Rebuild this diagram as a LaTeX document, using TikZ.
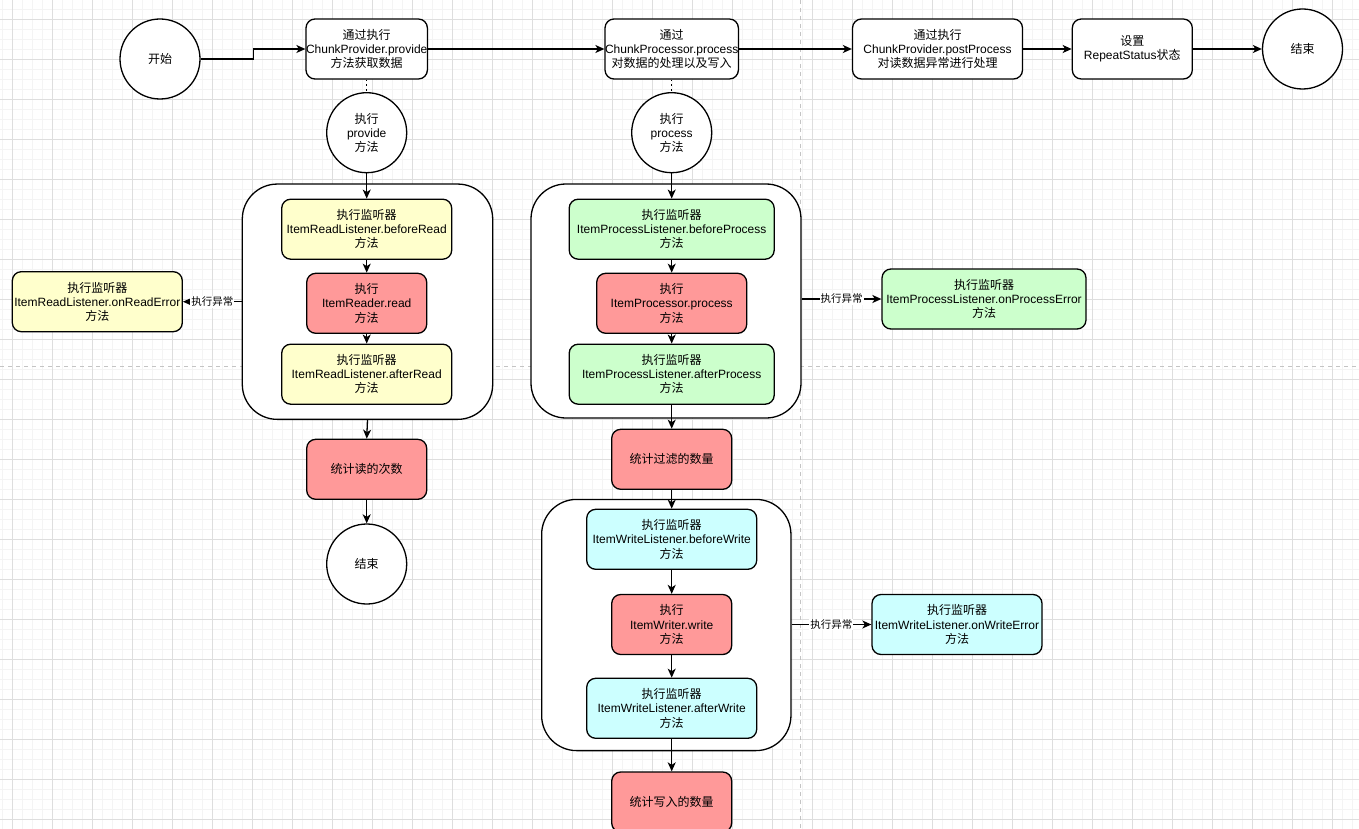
\documentclass[tikz,border=0pt]{standalone}
\usepackage{fontspec}
\setmainfont{Liberation Sans}
\newfontfamily\zhfont{Noto Sans CJK SC}
\newcommand{\zhtxt}[1]{{\zhfont #1}}
\usetikzlibrary{arrows.meta}
\definecolor{cyel}{HTML}{FFFFCC}
\definecolor{cred}{HTML}{FF9999}
\definecolor{cgrn}{HTML}{CCFFCC}
\definecolor{ccyn}{HTML}{CCFFFF}
\definecolor{gminorc}{HTML}{F4F4F4}
\definecolor{gmajorc}{HTML}{DEDEDE}
\definecolor{pagec}{HTML}{C4C4C4}
\begin{document}
\begin{tikzpicture}[x=1pt,y=-1pt,
  every node/.style={font=\fontsize{12}{14.2}\selectfont},
  rbox/.style={draw, line width=1.3pt, rounded corners=9pt, fill=white, align=center, inner sep=0pt, minimum height=60pt},
  circ/.style={draw, circle, line width=1.3pt, fill=white, align=center, inner sep=0pt, minimum size=80pt},
  grp/.style={draw, line width=1.3pt, rounded corners=35pt, fill=white, inner sep=0pt},
  arr/.style={line width=1.3pt, -{Stealth[length=9pt,width=8pt,inset=2.5pt]}},
  lbl/.style={fill=white, inner sep=1pt, font=\fontsize{10.5}{12}\selectfont},
  gminor/.style={draw=gminorc, line width=0.8pt},
  gmajor/.style={draw=gmajorc, line width=1pt},
  pageline/.style={draw=pagec, line width=1pt, dash pattern=on 4pt off 4pt},
]
\useasboundingbox (0,0) rectangle (1359,829);
\fill[white] (0,0) rectangle (1359,829);
% grid
\foreach \i in {0,...,135} \draw[gminor] ({2.3+10*\i},0) -- ({2.3+10*\i},829);
\foreach \i in {0,...,82} \draw[gminor] (0,{9.3+10*\i}) -- (1359,{9.3+10*\i});
\foreach \i in {0,...,33} \draw[gmajor] ({12.3+40*\i},0) -- ({12.3+40*\i},829);
\foreach \i in {0,...,20} \draw[gmajor] (0,{19.3+40*\i}) -- (1359,{19.3+40*\i});
% page break lines
\draw[pageline] (800.7,0) -- (800.7,829);
\draw[pageline] (0,366) -- (1359,366);

% containers
\node[grp, minimum width=250.4pt, minimum height=235.3pt] (gl) at (367.5,301.7) {};
\node[grp, minimum width=270pt, minimum height=234pt] (gm1) at (666,301) {};
\node[grp, minimum width=249.3pt, minimum height=251.2pt] (gm2) at (666.3,625) {};

% top row
\node[circ] (start) at (160,59) {\zhtxt{开始}};
\node[rbox, minimum width=120pt] (A) at (366.7,49) {\zhtxt{通过执行}\\ChunkProvider.provide\\\zhtxt{方法获取数据}};
\node[rbox, minimum width=130pt] (B) at (671.7,49) {\zhtxt{通过}\\ChunkProcessor.process\\\zhtxt{对数据的处理以及写入}};
\node[rbox, minimum width=170pt] (C) at (937.5,49) {\zhtxt{通过执行}\\ChunkProvider.postProcess\\\zhtxt{对读数据异常进行处理}};
\node[rbox, minimum width=120pt] (D) at (1132.3,49) {\zhtxt{设置}\\RepeatStatus\zhtxt{状态}};
\node[circ] (end1) at (1302.5,49) {\zhtxt{结束}};

% left column
\node[circ] (pc1) at (366.7,132.7) {\zhtxt{执行}\\provide\\\zhtxt{方法}};
\node[rbox, fill=cyel, minimum width=170pt] (br) at (366.7,229.2) {\zhtxt{执行监听器}\\ItemReadListener.beforeRead\\\zhtxt{方法}};
\node[rbox, fill=cred, minimum width=120pt] (rd) at (366.7,303.3) {\zhtxt{执行}\\ItemReader.read\\\zhtxt{方法}};
\node[rbox, fill=cyel, minimum width=170pt] (ar) at (366.7,374.2) {\zhtxt{执行监听器}\\ItemReadListener.afterRead\\\zhtxt{方法}};
\node[rbox, fill=cyel, minimum width=170pt] (re) at (97.3,301.7) {\zhtxt{执行监听器}\\ItemReadListener.onReadError\\\zhtxt{方法}};
\node[rbox, fill=cred, minimum width=120pt] (cr) at (366.7,469.3) {\zhtxt{统计读的次数}};
\node[circ] (end2) at (366.7,564) {\zhtxt{结束}};

% middle column
\node[circ] (pc2) at (671.7,132.7) {\zhtxt{执行}\\process\\\zhtxt{方法}};
\node[rbox, fill=cgrn, minimum width=205pt] (bp) at (671.7,229.2) {\zhtxt{执行监听器}\\ItemProcessListener.beforeProcess\\\zhtxt{方法}};
\node[rbox, fill=cred, minimum width=150pt] (pp) at (671.7,303.3) {\zhtxt{执行}\\ItemProcessor.process\\\zhtxt{方法}};
\node[rbox, fill=cgrn, minimum width=205pt] (ap) at (671.7,374.2) {\zhtxt{执行监听器}\\ItemProcessListener.afterProcess\\\zhtxt{方法}};
\node[rbox, fill=cgrn, minimum width=204pt] (pe) at (984,299) {\zhtxt{执行监听器}\\ItemProcessListener.onProcessError\\\zhtxt{方法}};
\node[rbox, fill=cred, minimum width=120pt] (cf) at (671.7,459.3) {\zhtxt{统计过滤的数量}};
\node[rbox, fill=ccyn, minimum width=170pt] (bw) at (671.7,539.3) {\zhtxt{执行监听器}\\ItemWriteListener.beforeWrite\\\zhtxt{方法}};
\node[rbox, fill=cred, minimum width=120pt] (ww) at (671.7,624.5) {\zhtxt{执行}\\ItemWriter.write\\\zhtxt{方法}};
\node[rbox, fill=ccyn, minimum width=170pt] (aw) at (671.7,708.3) {\zhtxt{执行监听器}\\ItemWriteListener.afterWrite\\\zhtxt{方法}};
\node[rbox, fill=ccyn, minimum width=170pt] (we) at (957,624.5) {\zhtxt{执行监听器}\\ItemWriteListener.onWriteError\\\zhtxt{方法}};
\node[rbox, fill=cred, minimum width=120pt] (cw) at (671.7,802) {\zhtxt{统计写入的数量}};

% top connectors
\draw[arr] (start.east) -- ++(53,0) |- (A.west);
\draw[arr] (A.east) -- (B.west);
\draw[arr] (B.east) -- (C.west);
\draw[arr] (C.east) -- (D.west);
\draw[arr] (D.east) -- (end1.west);
\draw[line width=1.3pt, dash pattern=on 1.3pt off 3.5pt] (A.south) -- (pc1.north);
\draw[line width=1.3pt, dash pattern=on 1.3pt off 3.5pt] (B.south) -- (pc2.north);

% left flow
\draw[arr] (pc1.south) -- (br.north);
\draw[arr] (br.south) -- (rd.north);
\draw[arr] (rd.south) -- (ar.north);
\draw[arr] (gl.south) -- (cr.north);
\draw[arr] (cr.south) -- (end2.north);
\draw[arr] (gl.west) -- node[lbl] {\zhtxt{执行异常}} (re.east);

% middle flow
\draw[arr] (pc2.south) -- (bp.north);
\draw[arr] (bp.south) -- (pp.north);
\draw[arr] (pp.south) -- (ap.north);
\draw[arr] (ap.south) -- (cf.north);
\draw[arr] (cf.south) -- (bw.north);
\draw[arr] (bw.south) -- (ww.north);
\draw[arr] (ww.south) -- (aw.north);
\draw[arr] (aw.south) -- (cw.north);
\draw[arr] (gm1.east |- pe.west) -- node[lbl] {\zhtxt{执行异常}} (pe.west);
\draw[arr] (gm2.east |- we.west) -- node[lbl] {\zhtxt{执行异常}} (we.west);
\end{tikzpicture}
\end{document}
